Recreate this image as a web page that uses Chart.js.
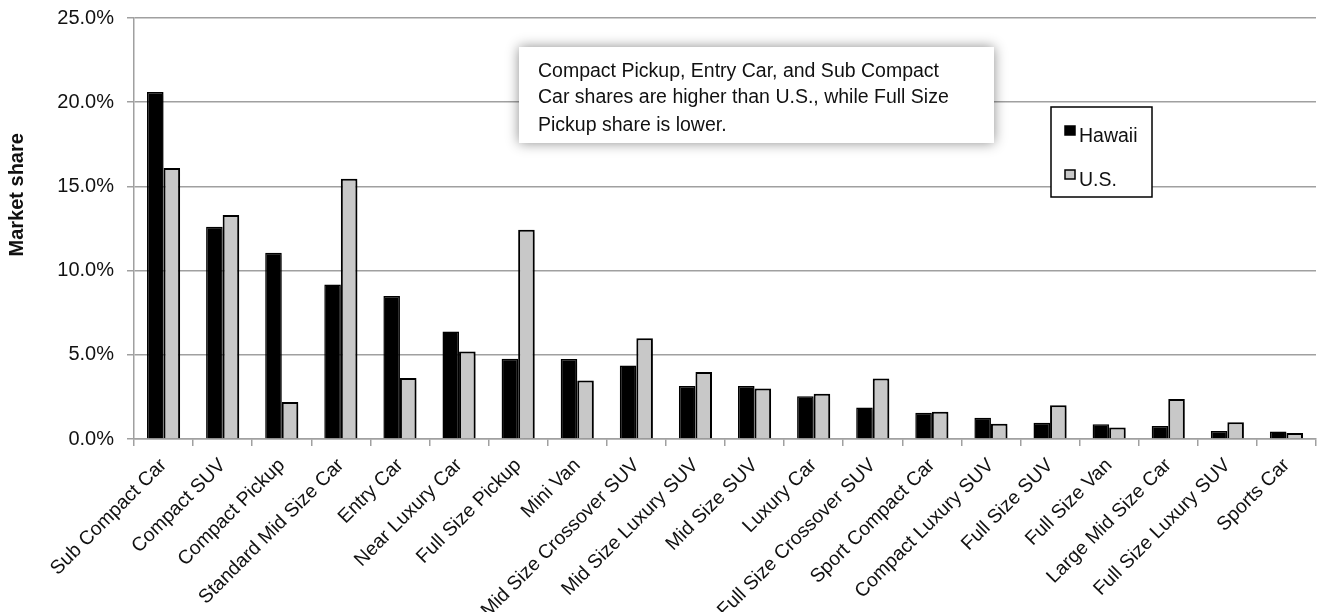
<!DOCTYPE html>
<html>
<head>
<meta charset="utf-8">
<title>Vehicle segment market share: Hawaii vs U.S.</title>
<script src="https://cdn.jsdelivr.net/npm/chart.js@4.4.1/dist/chart.umd.min.js"></script>
<style>
  html, body { margin: 0; padding: 0; background: #ffffff; }
  #chart { display: block; }
</style>
</head>
<body>
<canvas id="chart" width="1318" height="612"></canvas>
<script>
// Vehicle segments, ordered by Hawaii share
const categories = [
  'Sub Compact Car', 'Compact SUV', 'Compact Pickup', 'Standard Mid Size Car',
  'Entry Car', 'Near Luxury Car', 'Full Size Pickup', 'Mini Van',
  'Mid Size Crossover SUV', 'Mid Size Luxury SUV', 'Mid Size SUV', 'Luxury Car',
  'Full Size Crossover SUV', 'Sport Compact Car', 'Compact Luxury SUV', 'Full Size SUV',
  'Full Size Van', 'Large Mid Size Car', 'Full Size Luxury SUV', 'Sports Car'
];

// Market share, percent
const hawaiiShare = [20.6, 12.6, 11.06, 9.18, 8.49, 6.39, 4.77, 4.75, 4.36, 3.15,
                     3.15, 2.54, 1.87, 1.56, 1.26, 0.96, 0.87, 0.77, 0.47, 0.45];
const usShare     = [16.1, 13.3, 2.2, 15.46, 3.62, 5.2, 12.43, 3.47, 5.98, 3.98,
                     3.0, 2.68, 3.59, 1.62, 0.9, 2.0, 0.69, 2.38, 0.99, 0.36];

// Value axis
const yTicks = [0, 5, 10, 15, 20, 25];

const noteLines = [
  'Compact Pickup, Entry Car, and Sub Compact',
  'Car shares are higher than U.S., while Full Size',
  'Pickup share is lower.'
];
const yAxisTitle = 'Market share';

const GRID = '#a0a0a0';
const TEXT = '#111111';
const FONT = '"Liberation Sans", Arial, sans-serif';

// Soft drop shadow under the bars
const barShadow = {
  id: 'barShadow',
  beforeDatasetsDraw(chart) {
    const ctx = chart.ctx;
    ctx.save();
    ctx.shadowColor = 'rgba(0,0,0,0.30)';
    ctx.shadowBlur = 4;
    ctx.shadowOffsetX = 2;
    ctx.shadowOffsetY = 2;
  },
  afterDatasetsDraw(chart) {
    chart.ctx.restore();
  }
};

// Axis title, callout box and boxed legend
const overlays = {
  id: 'overlays',
  afterDraw(chart) {
    const ctx = chart.ctx;
    const area = chart.chartArea;

    // rotated value-axis title
    ctx.save();
    ctx.translate(17, area.top + (area.bottom - area.top) * 0.42);
    ctx.rotate(-Math.PI / 2);
    ctx.font = 'bold 20px ' + FONT;
    ctx.fillStyle = TEXT;
    ctx.textAlign = 'center';
    ctx.textBaseline = 'middle';
    ctx.fillText(yAxisTitle, 0, 0);
    ctx.restore();

    // callout box with shadow
    const bx = 519, by = 47, bw = 475, bh = 96;
    ctx.save();
    ctx.shadowColor = 'rgba(0,0,0,0.45)';
    ctx.shadowBlur = 12;
    ctx.fillStyle = '#ffffff';
    ctx.fillRect(bx, by, bw, bh);
    ctx.restore();
    ctx.save();
    ctx.font = '19.5px ' + FONT;
    ctx.fillStyle = TEXT;
    ctx.textAlign = 'left';
    ctx.textBaseline = 'alphabetic';
    const baselines = [77, 103, 131];
    noteLines.forEach((line, i) => ctx.fillText(line, bx + 19, baselines[i]));
    ctx.restore();

    // legend
    const lx = 1051, ly = 107, lw = 101, lh = 90;
    ctx.save();
    ctx.fillStyle = '#ffffff';
    ctx.fillRect(lx, ly, lw, lh);
    ctx.strokeStyle = '#000000';
    ctx.lineWidth = 1.5;
    ctx.strokeRect(lx, ly, lw, lh);
    ctx.font = '19.5px ' + FONT;
    ctx.textAlign = 'left';
    ctx.textBaseline = 'alphabetic';
    const rows = [126, 170];
    chart.data.datasets.forEach((ds, i) => {
      const top = rows[i];
      ctx.fillStyle = ds.backgroundColor;
      ctx.fillRect(lx + 14, top, 10, 9);
      ctx.strokeStyle = ds.borderColor;
      ctx.lineWidth = 1.5;
      ctx.strokeRect(lx + 14, top, 10, 9);
      ctx.fillStyle = TEXT;
      ctx.fillText(ds.label, lx + 28, top + 16);
    });
    ctx.restore();
  }
};

new Chart(document.getElementById('chart'), {
  type: 'bar',
  data: {
    labels: categories,
    datasets: [
      {
        label: 'Hawaii',
        data: hawaiiShare,
        backgroundColor: '#000000',
        borderColor: '#000000',
        borderWidth: 1.5,
        borderSkipped: 'bottom',
        categoryPercentage: 0.56,
        barPercentage: 1.0
      },
      {
        label: 'U.S.',
        data: usShare,
        backgroundColor: '#c8c8c8',
        borderColor: '#000000',
        borderWidth: 2,
        borderSkipped: 'bottom',
        categoryPercentage: 0.56,
        barPercentage: 1.0
      }
    ]
  },
  options: {
    responsive: false,
    animation: false,
    devicePixelRatio: 1,
    layout: { padding: { top: 18, right: 2, left: 0, bottom: 0 } },
    plugins: {
      legend: { display: false },
      tooltip: { enabled: false }
    },
    scales: {
      x: {
        afterFit(scale) {
          scale.height = 173;
          scale.paddingLeft = 0;
          scale.paddingRight = 0;
        },
        grid: {
          offset: true,
          drawOnChartArea: false,
          drawTicks: true,
          tickLength: 7,
          color: GRID,
          lineWidth: 1.5
        },
        border: { display: true, color: GRID, width: 1.5 },
        ticks: {
          autoSkip: false,
          maxRotation: 45,
          minRotation: 45,
          padding: 8,
          color: TEXT,
          font: { family: FONT, size: 19.5 }
        }
      },
      y: {
        min: yTicks[0],
        max: yTicks[yTicks.length - 1],
        afterFit(scale) {
          scale.width = 134;
          scale.paddingTop = 0;
          scale.paddingBottom = 0;
        },
        afterBuildTicks(scale) { scale.ticks = yTicks.map(v => ({ value: v })); },
        grid: {
          color: GRID,
          lineWidth: 1.5,
          drawTicks: true,
          tickLength: 7
        },
        border: { display: true, color: GRID, width: 1.5 },
        ticks: {
          padding: 13,
          color: TEXT,
          font: { family: FONT, size: 20 },
          callback: v => Number(v).toFixed(1) + '%'
        }
      }
    }
  },
  plugins: [barShadow, overlays]
});
</script>
</body>
</html>
